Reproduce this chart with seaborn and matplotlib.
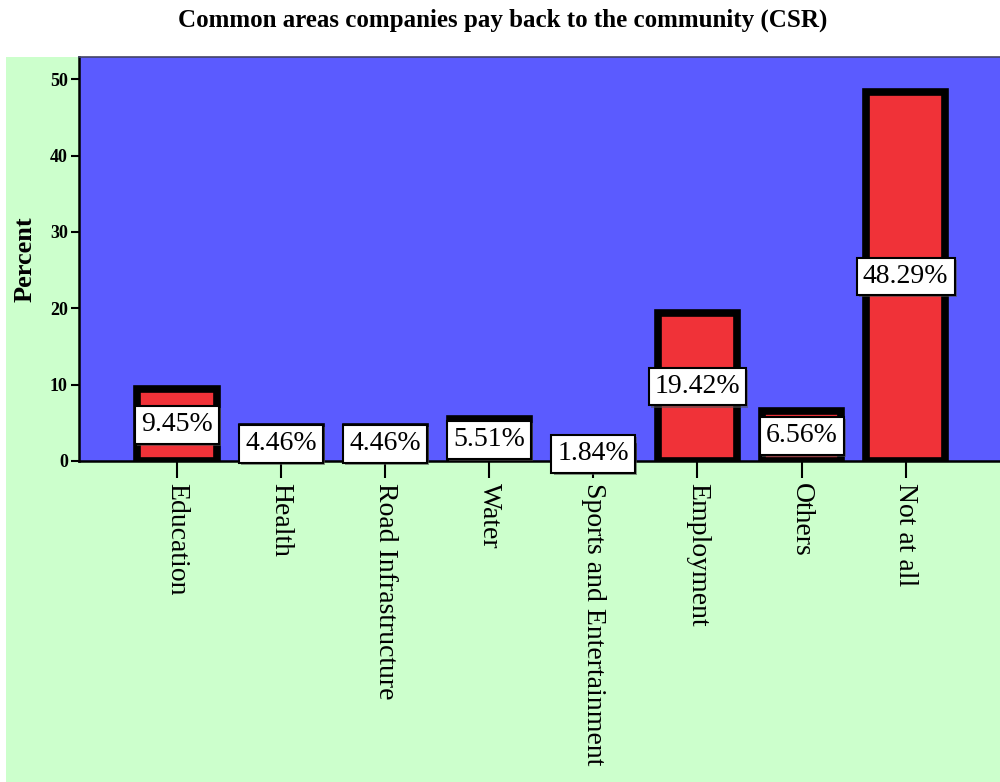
import matplotlib
matplotlib.use("Agg")
import matplotlib.pyplot as plt
from matplotlib.patches import Rectangle
import matplotlib.patheffects as pe
import seaborn as sns
import pandas as pd

categories = ["Education", "Health", "Road Infrastructure", "Water",
              "Sports and Entertainment", "Employment", "Others", "Not at all"]
percent = [9.45, 4.46, 4.46, 5.51, 1.84, 19.42, 6.56, 48.29]
y_ticks = [0, 10, 20, 30, 40, 50]
title = "Common areas companies pay back to the community (CSR)"

sns.set_style("white")
plt.rcParams["font.family"] = ["Liberation Serif", "DejaVu Serif"]
plt.rcParams["text.color"] = "black"

BLUE = "#5b5bff"
RED = "#f03238"
GREEN = "#ccffcc"

fig = plt.figure(figsize=(10, 7.82), dpi=100, facecolor="white")
# light green chart panel behind the plot area
fig.patches.append(Rectangle((0.006, 0.0), 0.994, 0.927, transform=fig.transFigure,
                             facecolor=GREEN, edgecolor="none", zorder=-10))

ax = fig.add_axes([0.079, 0.4105, 0.921, 0.5165])
ax.set_facecolor(BLUE)

df = pd.DataFrame({"Category": categories, "Percent": percent})
sns.barplot(data=df, x="Category", y="Percent", color=RED, saturation=1,
            edgecolor="black", linewidth=5.5, width=0.76, ax=ax, zorder=3)

for i, v in enumerate(percent):
    t = ax.text(i, v / 2, f"{v:.2f}%", ha="center", va="center", fontsize=20,
                color="black", zorder=5, clip_on=False,
                bbox=dict(boxstyle="square,pad=0.22", facecolor="white",
                          edgecolor="black", linewidth=1.5))
    t.get_bbox_patch().set_path_effects(
        [pe.SimplePatchShadow(offset=(1.5, -1.5), shadow_rgbFace="#555555", alpha=0.6),
         pe.Normal()])

ax.set_xlim(-0.941, 7.906)
ax.set_ylim(0, 52.9)
ax.set_yticks(y_ticks)
ax.set_yticklabels([str(t) for t in y_ticks], fontsize=13, fontweight="bold")
ax.set_xticks(range(len(categories)))
ax.set_xticklabels(categories, rotation=-90, fontsize=20, ha="center", va="top")

ax.tick_params(axis="y", direction="out", length=6, width=1.5, colors="black", pad=2, left=True)
ax.tick_params(axis="x", direction="out", length=12, width=1.5, colors="black", pad=4, bottom=True)

ax.set_xlabel("")
ax.set_ylabel("Percent", fontsize=19, fontweight="bold", labelpad=10, color="black")

for side in ["left", "bottom"]:
    ax.spines[side].set_color("black")
    ax.spines[side].set_linewidth(1.8)
ax.spines["top"].set_color("#444466")
ax.spines["top"].set_linewidth(1.2)
ax.spines["right"].set_visible(False)

fig.text(0.503, 0.974, title, ha="center", va="center", fontsize=18,
         fontweight="bold", color="black")

fig.savefig("out.png", dpi=100, facecolor="white")
